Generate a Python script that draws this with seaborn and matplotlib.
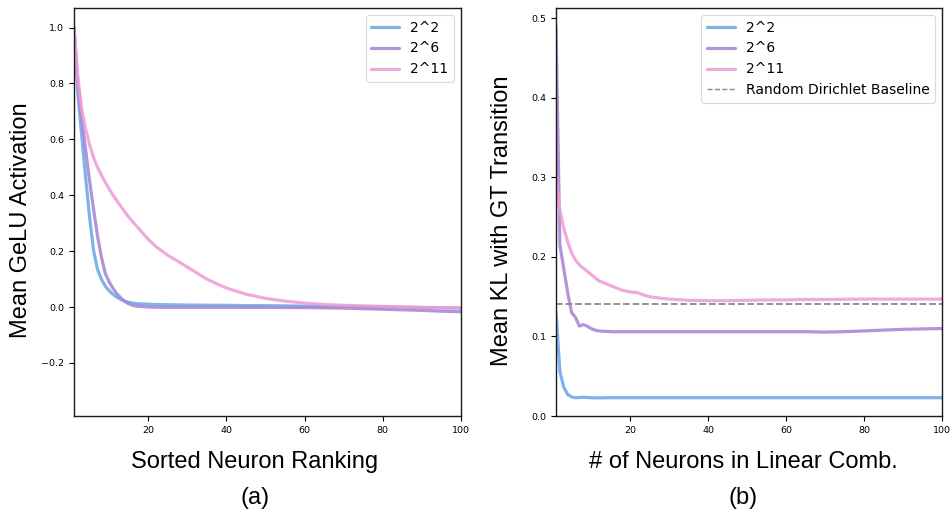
import numpy as np
import pandas as pd
import matplotlib
matplotlib.use("Agg")
import matplotlib.pyplot as plt
import seaborn as sns

# ---- panel (a): mean GeLU activation by sorted neuron rank ----
rank_x = [1, 2, 3, 4, 5, 6, 7, 8, 9, 10, 11, 12, 13, 14, 15, 16, 17, 18, 20,
          22, 25, 28, 30, 33, 35, 38, 40, 45, 50, 55, 60, 65, 70, 75, 80, 85, 90, 95, 100]
act_2_2 = [1.0, 0.76, 0.61, 0.46, 0.32, 0.203, 0.135, 0.10, 0.075, 0.058, 0.045,
           0.035, 0.027, 0.021, 0.017, 0.014, 0.012, 0.011, 0.010, 0.009, 0.008,
           0.0075, 0.007, 0.0068, 0.0065, 0.0062, 0.006, 0.005, 0.005, 0.004, 0.003,
           0.003, 0.002, 0.001, 0.0, -0.001, -0.002, -0.003, -0.004]
act_2_6 = [1.0, 0.80, 0.67, 0.56, 0.45, 0.35, 0.255, 0.18, 0.12, 0.09, 0.066,
           0.047, 0.032, 0.02, 0.011, 0.006, 0.003, 0.002, 0.0, -0.001, -0.001,
           -0.001, -0.001, -0.001, -0.001, -0.001, -0.001, -0.0015, -0.0015, -0.002,
           -0.002, -0.003, -0.004, -0.006, -0.008, -0.010, -0.012, -0.015, -0.017]
act_2_11 = [1.0, 0.82, 0.705, 0.635, 0.58, 0.535, 0.50, 0.472, 0.446, 0.422, 0.40,
            0.38, 0.36, 0.34, 0.322, 0.305, 0.29, 0.274, 0.242, 0.216, 0.185, 0.16,
            0.143, 0.117, 0.100, 0.080, 0.068, 0.046, 0.031, 0.021, 0.014, 0.009,
            0.006, 0.004, 0.002, 0.0, -0.001, -0.002, -0.003]

# ---- panel (b): KL divergence vs. number of neurons in the combination ----
comb_x = [1, 2, 3, 4, 5, 6, 7, 8, 9, 10, 11, 12, 13, 14, 15, 16, 17, 18, 20,
          22, 23, 25, 28, 30, 35, 40, 45, 50, 55, 60, 65, 70, 75, 80, 85, 90, 95, 100]
kl_2_2 = [0.131, 0.056, 0.036, 0.027, 0.024, 0.023, 0.0232, 0.0235, 0.0232, 0.023,
          0.0228, 0.0228, 0.0228, 0.023, 0.023, 0.023, 0.023, 0.023, 0.023, 0.023,
          0.023, 0.023, 0.023, 0.023, 0.023, 0.023, 0.023, 0.023, 0.023, 0.023,
          0.023, 0.023, 0.023, 0.023, 0.023, 0.023, 0.023, 0.023]
kl_2_6 = [0.49, 0.215, 0.185, 0.155, 0.130, 0.124, 0.113, 0.115, 0.113, 0.110,
          0.108, 0.107, 0.1065, 0.1065, 0.106, 0.106, 0.106, 0.106, 0.106, 0.106,
          0.106, 0.106, 0.106, 0.106, 0.106, 0.106, 0.106, 0.106, 0.106, 0.106,
          0.106, 0.1055, 0.106, 0.107, 0.108, 0.109, 0.1095, 0.110]
kl_2_11 = [0.30, 0.258, 0.236, 0.219, 0.205, 0.196, 0.19, 0.186, 0.182, 0.178,
           0.174, 0.17, 0.168, 0.166, 0.164, 0.162, 0.160, 0.158, 0.156, 0.155,
           0.153, 0.150, 0.148, 0.147, 0.1455, 0.145, 0.145, 0.1455, 0.146, 0.146,
           0.1465, 0.1465, 0.1468, 0.147, 0.147, 0.147, 0.147, 0.147]
dirichlet_baseline = 0.141

series_names = ["2^2", "2^6", "2^11"]
palette = {"2^2": "#6fa8e8", "2^6": "#a886d3", "2^11": "#ef9dd6"}


def long_frame(x, columns):
    parts = []
    for name, vals in zip(series_names, columns):
        parts.append(pd.DataFrame({"x": x, "y": vals, "series": name}))
    return pd.concat(parts, ignore_index=True)


df_a = long_frame(rank_x, [act_2_2, act_2_6, act_2_11])
df_b = long_frame(comb_x, [kl_2_2, kl_2_6, kl_2_11])

sns.set_style("ticks")
plt.rcParams["font.family"] = ["DejaVu Sans"]
plt.rcParams["text.color"] = "black"
plt.rcParams["axes.labelcolor"] = "black"

fig = plt.figure(figsize=(9.51, 5.18), dpi=100)
ax_a = fig.add_axes([74 / 951, 1 - 416 / 518, 387 / 951, 408 / 518])
ax_b = fig.add_axes([556 / 951, 1 - 416 / 518, 386 / 951, 408 / 518])

label_font = dict(family="Liberation Sans", size=17, color="black")

for ax, df in ((ax_a, df_a), (ax_b, df_b)):
    sns.lineplot(data=df, x="x", y="y", hue="series", hue_order=series_names,
                 palette=palette, estimator=None, sort=True, linewidth=2.3,
                 alpha=0.88, ax=ax)
    ax.set_xlim(1, 100)
    ax.set_xticks([20, 40, 60, 80, 100])
    ax.tick_params(labelsize=6.8, length=3.5, width=0.8, colors="black")
    for sp in ax.spines.values():
        sp.set_linewidth(1.0)
        sp.set_color("#1a1a1a")

ax_a.set_ylim(-0.39, 1.07)
ax_a.set_yticks([-0.2, 0.0, 0.2, 0.4, 0.6, 0.8, 1.0])
ax_b.set_ylim(0.0, 0.513)
ax_b.set_yticks([0.0, 0.1, 0.2, 0.3, 0.4, 0.5])

ax_b.axhline(dirichlet_baseline, color="#888888", linestyle="--", linewidth=1.3,
             label="Random Dirichlet Baseline")

ax_a.set_xlabel("Sorted Neuron Ranking", **label_font)
ax_a.set_ylabel("Mean GeLU Activation", **label_font)
ax_b.set_xlabel("# of Neurons in Linear Comb.", **label_font)
ax_b.set_ylabel("Mean KL with GT Transition", **label_font)

ax_a.xaxis.set_label_coords(0.467, -0.085)
ax_b.xaxis.set_label_coords(0.486, -0.085)
ax_a.yaxis.set_label_coords(-0.108, 0.48)
ax_b.yaxis.set_label_coords(-0.112, 0.478)

for ax in (ax_a, ax_b):
    leg = ax.legend(loc="upper right", fontsize=10, frameon=True,
                    borderaxespad=0.5, labelspacing=0.5)
    leg.get_frame().set_edgecolor("#d0d0d0")
    leg.get_frame().set_linewidth(0.8)
    for line in leg.get_lines():
        if line.get_linestyle() == "--":
            line.set_linewidth(1.0)
        else:
            line.set_linewidth(2.3)

fig.text(254.7 / 951, 1 - 498 / 518, "(a)", ha="center", va="center", **label_font)
fig.text(743.5 / 951, 1 - 498 / 518, "(b)", ha="center", va="center", **label_font)

fig.savefig("out.png", dpi=100)
